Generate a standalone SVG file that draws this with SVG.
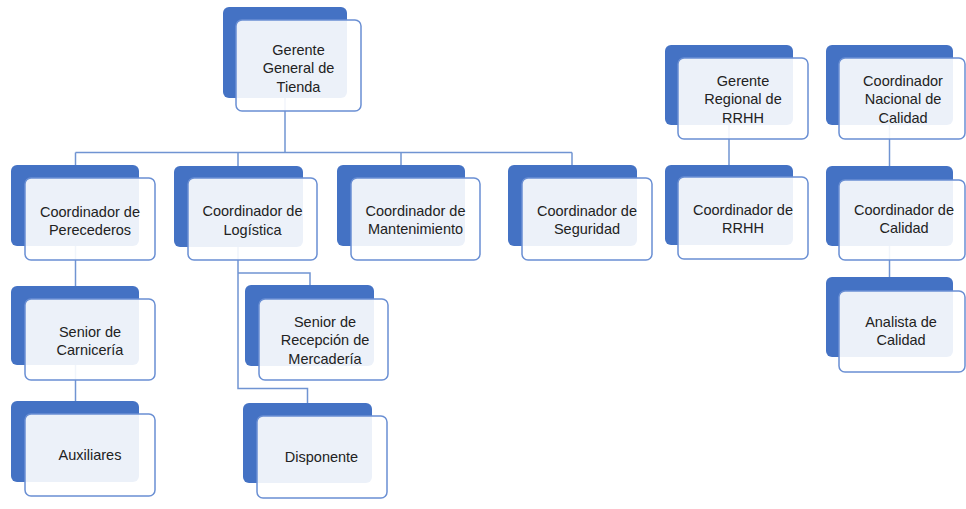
<svg xmlns="http://www.w3.org/2000/svg" width="966" height="509" viewBox="0 0 966 509">
  <style>
    .back { fill: #4472C4; }
    .front { fill: #FFFFFF; fill-opacity: 0.9; stroke: #6A8FD3; stroke-width: 1.5; }
    .lbl { font-family: "Liberation Sans", Arial, sans-serif; font-size: 14.5px; fill: #222222; text-anchor: middle; }
    .wire { fill: none; stroke: #7094D2; stroke-width: 1.5; }
  </style>
  <rect width="966" height="509" fill="#FFFFFF"/>

  <!-- connectors (drawn under the cards) -->
  <g id="connectors" class="wire">
    <path d="M285 98 V152.5"/>
    <path d="M75.5 152.5 H572"/>
    <path d="M75.5 152.5 V165"/>
    <path d="M238 152.5 V166"/>
    <path d="M401 152.5 V165"/>
    <path d="M572 152.5 V165"/>
    <path d="M75.5 246 V401"/>
    <path d="M238 247 V388.5 H307.5 V403"/>
    <path d="M238 273 H310 V285"/>
    <path d="M729 125 V165"/>
    <path d="M889.5 125 V166"/>
    <path d="M889.5 246 V277"/>
  </g>

  <g id="gerente-general">
    <rect class="back" x="223" y="7" width="124" height="91" rx="6"/>
    <rect class="front" x="236" y="20" width="125" height="91" rx="6"/>
    <text class="lbl" x="298.5" y="55">Gerente</text>
    <text class="lbl" x="298.5" y="73.3">General de</text>
    <text class="lbl" x="298.5" y="91.6">Tienda</text>
  </g>

  <g id="coord-perecederos">
    <rect class="back" x="11" y="165" width="128" height="81" rx="6"/>
    <rect class="front" x="25" y="178" width="130" height="82" rx="6"/>
    <text class="lbl" x="90" y="216.5">Coordinador de</text>
    <text class="lbl" x="90" y="235">Perecederos</text>
  </g>

  <g id="coord-logistica">
    <rect class="back" x="174" y="166" width="129" height="81" rx="6"/>
    <rect class="front" x="188" y="178" width="129" height="82" rx="6"/>
    <text class="lbl" x="252.5" y="216">Coordinador de</text>
    <text class="lbl" x="252.5" y="234.5">Logística</text>
  </g>

  <g id="coord-mantenimiento">
    <rect class="back" x="337" y="165" width="128" height="81" rx="6"/>
    <rect class="front" x="351" y="178" width="129" height="82" rx="6"/>
    <text class="lbl" x="415.5" y="216">Coordinador de</text>
    <text class="lbl" x="415.5" y="233.5">Mantenimiento</text>
  </g>

  <g id="coord-seguridad">
    <rect class="back" x="508" y="165" width="129" height="81" rx="6"/>
    <rect class="front" x="522" y="178" width="130" height="82" rx="6"/>
    <text class="lbl" x="587" y="216">Coordinador de</text>
    <text class="lbl" x="587" y="233.5">Seguridad</text>
  </g>

  <g id="senior-carniceria">
    <rect class="back" x="11" y="286" width="128" height="79" rx="6"/>
    <rect class="front" x="25" y="299" width="130" height="81" rx="6"/>
    <text class="lbl" x="90" y="336.5">Senior de</text>
    <text class="lbl" x="90" y="354.5">Carnicería</text>
  </g>

  <g id="auxiliares">
    <rect class="back" x="11" y="401" width="128" height="81" rx="6"/>
    <rect class="front" x="25" y="414" width="130" height="82" rx="6"/>
    <text class="lbl" x="90" y="460">Auxiliares</text>
  </g>

  <g id="senior-recepcion">
    <rect class="back" x="245" y="285" width="129" height="81" rx="6"/>
    <rect class="front" x="259" y="299" width="129" height="81" rx="6"/>
    <text class="lbl" x="325" y="326.5">Senior de</text>
    <text class="lbl" x="325" y="345">Recepción de</text>
    <text class="lbl" x="325" y="364">Mercadería</text>
  </g>

  <g id="disponente">
    <rect class="back" x="243" y="403" width="129" height="80" rx="6"/>
    <rect class="front" x="257" y="416" width="130" height="82" rx="6"/>
    <text class="lbl" x="321.5" y="461.5">Disponente</text>
  </g>

  <g id="gerente-regional-rrhh">
    <rect class="back" x="665" y="45" width="128" height="80" rx="6"/>
    <rect class="front" x="678" y="58" width="130" height="81" rx="6"/>
    <text class="lbl" x="743" y="86">Gerente</text>
    <text class="lbl" x="743" y="104">Regional de</text>
    <text class="lbl" x="743" y="122.5">RRHH</text>
  </g>

  <g id="coord-rrhh">
    <rect class="back" x="665" y="165" width="128" height="80" rx="6"/>
    <rect class="front" x="678" y="177" width="130" height="82" rx="6"/>
    <text class="lbl" x="743" y="215">Coordinador de</text>
    <text class="lbl" x="743" y="233">RRHH</text>
  </g>

  <g id="coord-nacional-calidad">
    <rect class="back" x="826" y="45" width="127" height="80" rx="6"/>
    <rect class="front" x="839" y="58" width="126" height="81" rx="6"/>
    <text class="lbl" x="903" y="86">Coordinador</text>
    <text class="lbl" x="903" y="104">Nacional de</text>
    <text class="lbl" x="903" y="122.5">Calidad</text>
  </g>

  <g id="coord-calidad">
    <rect class="back" x="826" y="166" width="127" height="80" rx="6"/>
    <rect class="front" x="839" y="180" width="126" height="80" rx="6"/>
    <text class="lbl" x="904" y="215">Coordinador de</text>
    <text class="lbl" x="904" y="233.3">Calidad</text>
  </g>

  <g id="analista-calidad">
    <rect class="back" x="826" y="277" width="127" height="80" rx="6"/>
    <rect class="front" x="839" y="291" width="126" height="81" rx="6"/>
    <text class="lbl" x="901" y="326.5">Analista de</text>
    <text class="lbl" x="901" y="345">Calidad</text>
  </g>
</svg>
